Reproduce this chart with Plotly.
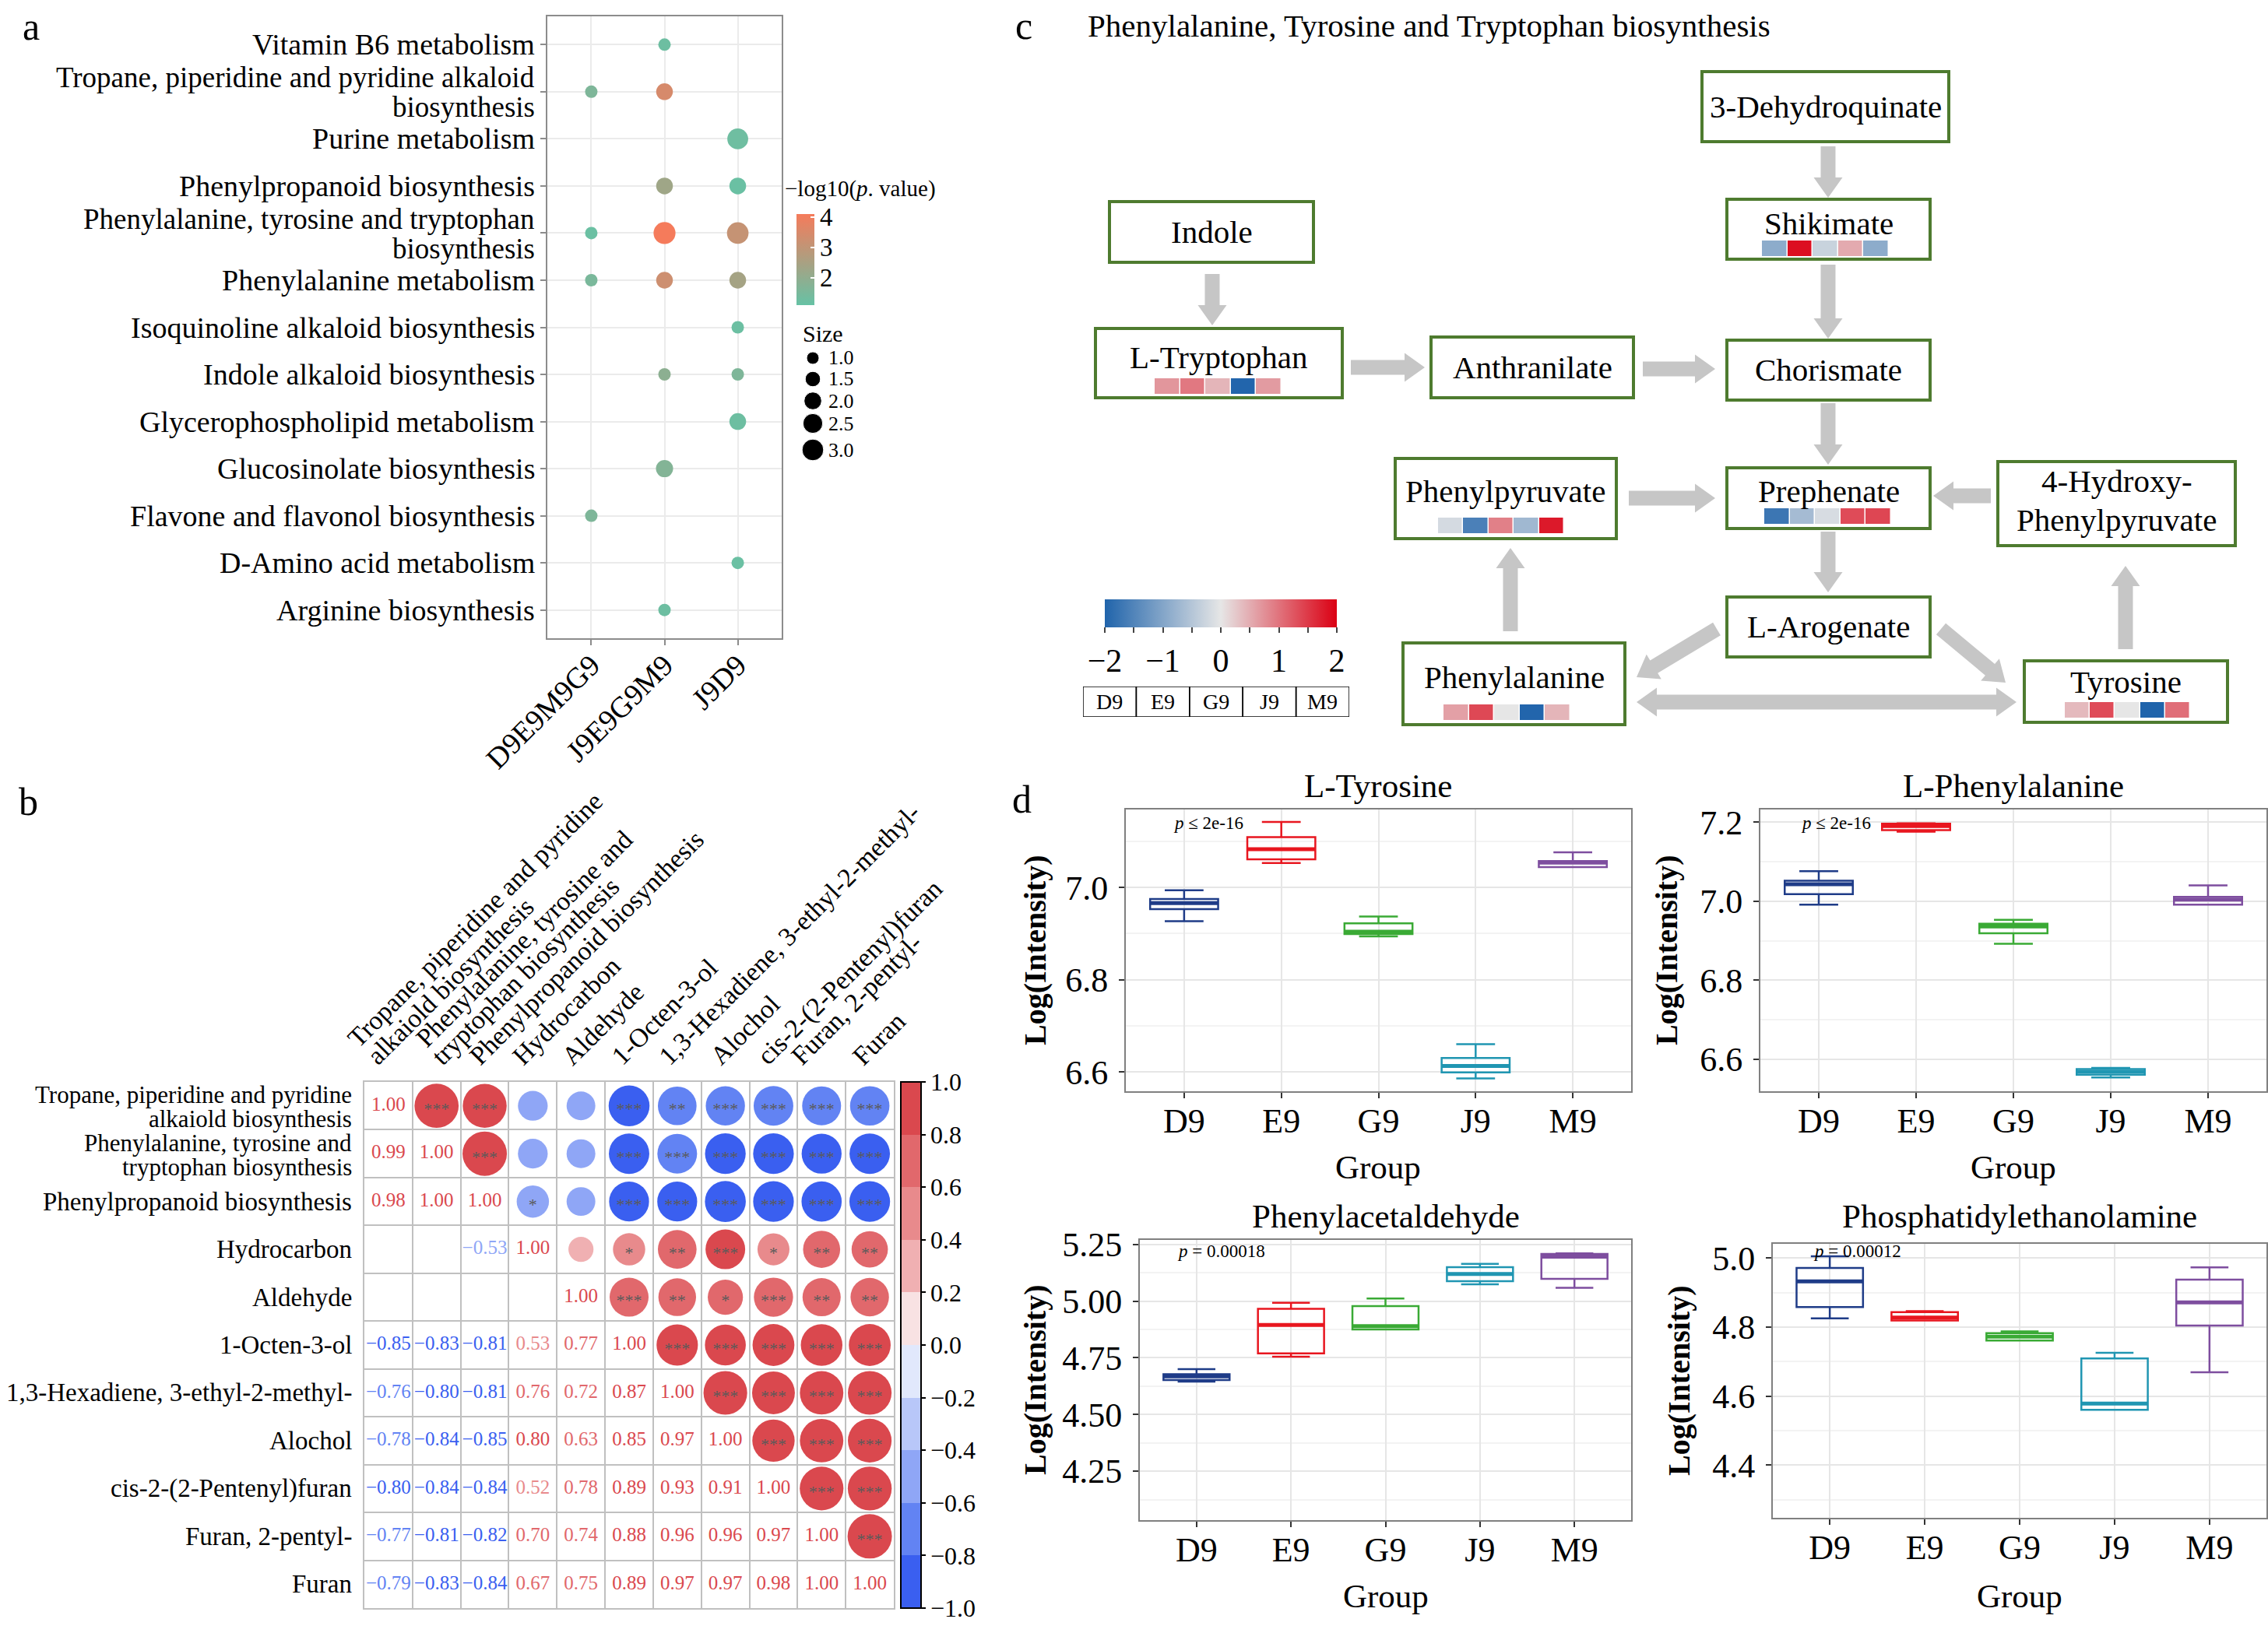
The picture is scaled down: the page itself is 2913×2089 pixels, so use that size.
import math
import plotly.graph_objects as go

W, H = 2913, 2089
FONT = "Liberation Serif"


def fx(x):
    return x / W


def fy(y):
    return 1 - y / H


def dom_x(a, b):
    return [a / W, b / W]


def dom_y(a, b):
    return [1 - b / H, 1 - a / H]


# ====================== DATA ======================
# ---- panel a : enrichment bubble chart
pathway_labels = [
    "Vitamin B6 metabolism",
    "Tropane, piperidine and pyridine alkaloid\nbiosynthesis",
    "Purine metabolism",
    "Phenylpropanoid biosynthesis",
    "Phenylalanine, tyrosine and tryptophan\nbiosynthesis",
    "Phenylalanine metabolism",
    "Isoquinoline alkaloid biosynthesis",
    "Indole alkaloid biosynthesis",
    "Glycerophospholipid metabolism",
    "Glucosinolate biosynthesis",
    "Flavone and flavonol biosynthesis",
    "D-Amino acid metabolism",
    "Arginine biosynthesis",
]
bubble_groups = ["D9E9M9G9", "J9E9G9M9", "J9D9"]
bub_pathway = [0, 1, 1, 2, 3, 3, 4, 4, 4, 5, 5, 5, 6, 7, 7, 8, 9, 10, 11, 12]
bub_group = ["J9E9G9M9", "D9E9M9G9", "J9E9G9M9", "J9D9", "J9E9G9M9", "J9D9",
             "D9E9M9G9", "J9E9G9M9", "J9D9", "D9E9M9G9", "J9E9G9M9", "J9D9",
             "J9D9", "J9E9G9M9", "J9D9", "J9D9", "J9E9G9M9", "D9E9M9G9",
             "J9D9", "J9E9G9M9"]
bub_size = [1.0, 1.0, 1.8, 2.8, 1.8, 1.8, 1.0, 3.1, 3.0, 1.0, 1.8, 1.8,
            1.0, 1.0, 1.0, 1.8, 1.9, 1.0, 1.0, 1.0]
bub_logp = [1.25, 1.6, 3.45, 1.28, 2.3, 1.18, 1.2, 4.1, 3.1, 1.52, 3.26, 2.42,
            1.22, 1.9, 1.6, 1.25, 1.7, 1.6, 1.2, 1.25]
size_legend_vals = [1.0, 1.5, 2.0, 2.5, 3.0]

# ---- panel b : correlation matrix
corr_labels = [
    "Tropane, piperidine and pyridine\nalkaiold biosynthesis",
    "Phenylalanine, tyrosine and\ntryptophan biosynthesis",
    "Phenylpropanoid biosynthesis",
    "Hydrocarbon",
    "Aldehyde",
    "1-Octen-3-ol",
    "1,3-Hexadiene, 3-ethyl-2-methyl-",
    "Alochol",
    "cis-2-(2-Pentenyl)furan",
    "Furan, 2-pentyl-",
    "Furan",
]
corr_lower = [
    [1.00],
    [0.99, 1.00],
    [0.98, 1.00, 1.00],
    [-0.45, -0.45, -0.53, 1.00],
    [-0.42, -0.42, -0.42, 0.32, 1.00],
    [-0.85, -0.83, -0.81, 0.53, 0.77, 1.00],
    [-0.76, -0.80, -0.81, 0.76, 0.72, 0.87, 1.00],
    [-0.78, -0.84, -0.85, 0.80, 0.63, 0.85, 0.97, 1.00],
    [-0.80, -0.84, -0.84, 0.52, 0.78, 0.89, 0.93, 0.91, 1.00],
    [-0.77, -0.81, -0.82, 0.70, 0.74, 0.88, 0.96, 0.96, 0.97, 1.00],
    [-0.79, -0.83, -0.84, 0.67, 0.75, 0.89, 0.97, 0.97, 0.98, 1.00, 1.00],
]
hidden_rows = [3, 3, 4, 4, 4, 4]
hidden_cols = [0, 1, 0, 1, 2, 3]
corr_stars = [
    ["***", "***", "", "", "***", "**", "***", "***", "***", "***"],
    ["***", "", "", "***", "***", "***", "***", "***", "***"],
    ["*", "", "***", "***", "***", "***", "***", "***"],
    ["", "*", "**", "***", "*", "**", "**"],
    ["***", "**", "*", "***", "**", "**"],
    ["***", "***", "***", "***", "***"],
    ["***", "***", "***", "***"],
    ["***", "***", "***"],
    ["***", "***"],
    ["***"],
]
corr_bin_colors = ["#3A5FF0", "#6283F3", "#8FA6F6", "#B8C7F9", "#E1E8FC",
                   "#F8E2E3", "#F0B0B2", "#E88A8C", "#E1686C", "#DA484E"]
corr_ticks = [-1.0, -0.8, -0.6, -0.4, -0.2, 0.0, 0.2, 0.4, 0.6, 0.8, 1.0]

# ---- panel c : pathway heat strips (z-scores)
strip_groups = ["D9", "E9", "G9", "J9", "M9"]
shikimate_z = [-0.9, 1.87, -0.3, 0.52, -0.9]
tryptophan_z = [0.7, 0.96, 0.43, -1.98, 0.65]
phenylpyruvate_z = [-0.18, -1.57, 0.89, -0.71, 1.78]
prephenate_z = [-1.72, -0.66, -0.15, 1.35, 1.39]
phenylalanine_z = [0.61, 1.37, 0.0, -1.98, 0.43]
tyrosine_z = [0.39, 1.35, 0.0, -2.0, 1.04]
heat_ticks = [-2, -1.5, -1, -0.5, 0, 0.5, 1, 1.5, 2]
heat_ticktext = ["\u22122", "", "\u22121", "", "0", "", "1", "", "2"]

# ---- panel d : box plots (lower fence, q1, median, q3, upper fence)
box_groups = ["D9", "E9", "G9", "J9", "M9"]
box_colors = ["#1F3C88", "#E8161F", "#3AAA35", "#2096B2", "#7E4E9F"]

tyr_lo = [6.927, 7.053, 6.894, 6.586, 7.044]
tyr_q1 = [6.953, 7.061, 6.899, 6.599, 7.044]
tyr_med = [6.966, 7.083, 6.904, 6.613, 7.054]
tyr_q3 = [6.975, 7.109, 6.922, 6.630, 7.057]
tyr_hi = [6.994, 7.142, 6.937, 6.660, 7.076]

phe_lo = [6.991, 7.176, 6.892, 6.554, 6.991]
phe_q1 = [7.018, 7.180, 6.919, 6.561, 6.991]
phe_med = [7.043, 7.190, 6.936, 6.568, 7.004]
phe_q3 = [7.052, 7.196, 6.943, 6.575, 7.011]
phe_hi = [7.076, 7.197, 6.953, 6.578, 7.040]

pac_lo = [4.645, 4.755, 4.875, 5.074, 5.059]
pac_q1 = [4.652, 4.770, 4.875, 5.088, 5.098]
pac_med = [4.668, 4.895, 4.890, 5.120, 5.196]
pac_q3 = [4.678, 4.966, 4.978, 5.150, 5.208]
pac_hi = [4.700, 4.993, 5.012, 5.164, 5.211]

pe_lo = [4.825, 4.819, 4.761, 4.560, 4.669]
pe_q1 = [4.858, 4.819, 4.761, 4.560, 4.804]
pe_med = [4.932, 4.827, 4.772, 4.578, 4.871]
pe_q3 = [4.971, 4.843, 4.782, 4.709, 4.937]
pe_hi = [5.005, 4.846, 4.787, 4.725, 4.973]

# ====================== FIGURE ======================
fig = go.Figure()
layout = dict(width=W, height=H, margin=dict(l=0, r=0, t=0, b=0),
              paper_bgcolor="white", plot_bgcolor="white",
              font=dict(family=FONT, color="black"), showlegend=False)
annotations = []
shapes = []


def ann(text, x, y, size, xanchor="center", yanchor="middle", xref="paper",
        yref="paper", color="black", **kw):
    d = dict(text=text, x=x, y=y, xref=xref, yref=yref, xanchor=xanchor,
             yanchor=yanchor, showarrow=False, borderpad=0, borderwidth=0,
             font=dict(family=FONT, size=size, color=color))
    d.update(kw)
    annotations.append(d)


def pann(text, px, py, size, **kw):
    ann(text, fx(px), fy(py), size, **kw)


# panel letters
pann("a", 40, 34, 50)
pann("b", 36, 1030, 50)
pann("c", 1315, 33, 50)
pann("d", 1312, 1027, 50)

# ---------------- panel a ----------------
def bubble_px(s):
    return 16 * math.sqrt(s)


GRAY_BORDER = "#8C8C8C"
layout["xaxis"] = dict(domain=dom_x(703, 1004), range=[-0.6, 2.6], tickvals=[0, 1, 2],
                       ticktext=bubble_groups, tickangle=-45, tickfont=dict(size=38),
                       ticks="outside", ticklen=7, tickcolor=GRAY_BORDER, tickwidth=2,
                       showgrid=True, gridcolor="#EBEBEB", gridwidth=2, zeroline=False,
                       showline=True, mirror=True, linecolor=GRAY_BORDER, linewidth=2,
                       anchor="y", automargin=False, ticklabelstandoff=-12)
layout["yaxis"] = dict(domain=dom_y(21, 820), range=[12.6, -0.6],
                       tickvals=list(range(len(pathway_labels))), showticklabels=False,
                       ticks="outside", ticklen=7, tickcolor=GRAY_BORDER, tickwidth=2,
                       showgrid=True, gridcolor="#EBEBEB", gridwidth=2, zeroline=False,
                       showline=True, mirror=True, linecolor=GRAY_BORDER, linewidth=2,
                       anchor="x", automargin=False)
fig.add_trace(go.Scatter(
    x=[bubble_groups.index(g) for g in bub_group], y=bub_pathway, mode="markers",
    marker=dict(size=[bubble_px(s) for s in bub_size], color=bub_logp, cmin=1.1, cmax=4.1,
                colorscale=[[0, "#66C2A5"], [1, "#F57B5B"]], line=dict(width=0), opacity=1,
                colorbar=dict(x=fx(1023), xanchor="left", y=fy(275), yanchor="top",
                              len=117, lenmode="pixels", thickness=23, outlinewidth=0,
                              tickvals=[2, 3, 4], ticks="inside", ticklen=5, tickwidth=2,
                              tickcolor="white", tickfont=dict(size=33, family=FONT),
                              xpad=0, ypad=0)),
    xaxis="x", yaxis="y", hoverinfo="skip"))
for i, lab in enumerate(pathway_labels):
    lines = lab.split("\n")
    if len(lines) == 1:
        ann(lines[0], fx(687), i, 38, xanchor="right", yref="y")
    else:
        ann(lines[0], fx(687), i, 37, xanchor="right", yref="y", yshift=18)
        ann(lines[1], fx(687), i, 37, xanchor="right", yref="y", yshift=-20)
pann("\u2212log10(<i>p</i>. value)", 1008, 242, 29, xanchor="left")
pann("Size", 1031, 428, 30, xanchor="left")

# size legend
legend_y = [460, 487, 515, 544, 578]
layout["xaxis2"] = dict(domain=dom_x(1020, 1120), range=[1020, 1120], visible=False,
                        anchor="y2")
layout["yaxis2"] = dict(domain=dom_y(445, 600), range=[600, 445], visible=False,
                        anchor="x2")
fig.add_trace(go.Scatter(
    x=[1044] * len(size_legend_vals), y=legend_y, mode="markers",
    marker=dict(size=[bubble_px(s) for s in size_legend_vals], color="black", opacity=1),
    xaxis="x2", yaxis="y2", hoverinfo="skip"))
for v, yy in zip(size_legend_vals, legend_y):
    ann(f"{v:.1f}", 1064, yy, 26, xanchor="left", xref="x2", yref="y2")

# ---------------- panel b ----------------
n = len(corr_labels)
grid_vals = [k - 0.5 for k in range(n + 1)]
GRID_B = "#C0C0C0"
layout["xaxis3"] = dict(domain=dom_x(468, 1148), range=[-0.5, n - 0.5], tickvals=grid_vals,
                        showticklabels=False, ticks="", showgrid=True, gridcolor=GRID_B,
                        gridwidth=2, zeroline=False, showline=True, mirror=True,
                        linecolor=GRID_B, linewidth=2, anchor="y3")
layout["yaxis3"] = dict(domain=dom_y(1390, 2066), range=[n - 0.5, -0.5], tickvals=grid_vals,
                        showticklabels=False, ticks="", showgrid=True, gridcolor=GRID_B,
                        gridwidth=2, zeroline=False, showline=True, mirror=True,
                        linecolor=GRID_B, linewidth=2, anchor="x3")


def corr_color(r):
    k = int((r + 1) / 0.2)
    return corr_bin_colors[max(0, min(9, k))]


disc_scale = []
for k, c in enumerate(corr_bin_colors):
    disc_scale.append([k / 10, c])
    disc_scale.append([(k + 1) / 10, c])

cx, cy, cr, st = [], [], [], []
for i in range(n):
    for j in range(i + 1, n):
        cx.append(j)
        cy.append(i)
        cr.append(corr_lower[j][i])
        st.append(corr_stars[i][j - i - 1])
fig.add_trace(go.Scatter(
    x=cx, y=cy, mode="markers",
    marker=dict(size=[57 * math.sqrt(abs(r)) for r in cr], color=cr, cmin=-1, cmax=1,
                colorscale=disc_scale, line=dict(width=0), opacity=1,
                colorbar=dict(x=fx(1157), xanchor="left", y=fy(1390), yanchor="top",
                              len=676, lenmode="pixels", thickness=26, outlinewidth=2,
                              outlinecolor="black", tickvals=corr_ticks,
                              ticktext=[f"{t:.1f}".replace("-", "\u2212") for t in corr_ticks],
                              ticks="outside", ticklen=5, tickwidth=2, tickcolor="black",
                              tickfont=dict(size=32, family=FONT), xpad=0, ypad=0)),
    xaxis="x3", yaxis="y3", hoverinfo="skip"))
fig.add_trace(go.Scatter(
    x=cx, y=[v + 0.1 for v in cy], mode="text", text=st,
    textfont=dict(size=22, color="#5A5A5A", family=FONT),
    xaxis="x3", yaxis="y3", hoverinfo="skip"))
hidden = set(zip(hidden_rows, hidden_cols))
nx, ny, nt, nc = [], [], [], []
for i in range(n):
    for j in range(i + 1):
        if (i, j) in hidden:
            continue
        r = corr_lower[i][j]
        nx.append(j)
        ny.append(i)
        nt.append(f"{r:.2f}".replace("-", "\u2212"))
        nc.append(corr_color(r))
fig.add_trace(go.Scatter(
    x=nx, y=ny, mode="text", text=nt, textfont=dict(size=25, color=nc, family=FONT),
    xaxis="x3", yaxis="y3", hoverinfo="skip"))
for i, lab in enumerate(corr_labels):
    lines = lab.split("\n")
    if len(lines) == 1:
        ann(lines[0], fx(452), i, 33, xanchor="right", yref="y3")
    else:
        ann(lines[0], fx(452), i, 31, xanchor="right", yref="y3", yshift=14)
        ann(lines[1], fx(452), i, 31, xanchor="right", yref="y3", yshift=-17)

# rotated column labels: baseline start of each line
col_label_lines = [
    ("Tropane, piperidine and pyridine", 461, 1347),
    ("alkaiold biosynthesis", 486, 1370),
    ("Phenylalanine, tyrosine and", 549, 1347),
    ("tryptophan biosynthesis", 569, 1370),
    ("Phenylpropanoid biosynthesis", 617, 1370),
    ("Hydrocarbon", 673, 1370),
    ("Aldehyde", 736, 1370),
    ("1-Octen-3-ol", 800, 1370),
    ("1,3-Hexadiene, 3-ethyl-2-methyl-", 860, 1370),
    ("Alochol", 926, 1370),
    ("cis-2-(2-Pentenyl)furan", 987, 1370),
    ("Furan, 2-pentyl-", 1031, 1370),
    ("Furan", 1109, 1370),
]
S_COL = 34
for txt, bx, by in col_label_lines:
    px_ = bx - 0.7071 * 0.891 * S_COL
    py_ = by + 0.7071 * 0.216 * S_COL
    pann(txt, px_, py_, S_COL, xanchor="left", yanchor="bottom", textangle=-45)

# ---------------- panel c ----------------
pann("Phenylalanine, Tyrosine and Tryptophan biosynthesis", 1397, 33, 41, xanchor="left")
GREEN = "#4E7B2F"
nodes = [
    # text lines, x0, y0, x1, y1, text centre y
    (["3-Dehydroquinate"], 2186, 92, 2503, 182, 137),
    (["Shikimate"], 2218, 256, 2479, 333, 287),
    (["Indole"], 1425, 259, 1687, 337, 298),
    (["L-Tryptophan"], 1407, 422, 1724, 511, 459),
    (["Anthranilate"], 1838, 433, 2098, 511, 472),
    (["Chorismate"], 2218, 437, 2479, 514, 475),
    (["Phenylpyruvate"], 1792, 589, 2076, 692, 631),
    (["Prephenate"], 2218, 601, 2479, 679, 631),
    (["4-Hydroxy-", "Phenylpyruvate"], 2566, 593, 2871, 701, 643),
    (["L-Arogenate"], 2218, 767, 2479, 844, 805),
    (["Phenylalanine"], 1802, 826, 2087, 931, 870),
    (["Tyrosine"], 2600, 849, 2861, 928, 876),
]
for lines, x0, y0, x1, y1, ty in nodes:
    shapes.append(dict(type="rect", xref="paper", yref="paper", x0=fx(x0), x1=fx(x1),
                       y0=fy(y1), y1=fy(y0), line=dict(color=GREEN, width=4),
                       fillcolor="rgba(0,0,0,0)", layer="above"))
    cxp = (x0 + x1) / 2
    if len(lines) == 1:
        pann(lines[0], cxp, ty, 41)
    else:
        pann(lines[0], cxp, ty - 25, 41)
        pann(lines[1], cxp, ty + 25, 41)


def block_arrow(x0, y0, x1, y1, shaft=19, head_w=37, head_l=26, double=False):
    L = math.hypot(x1 - x0, y1 - y0)
    ux, uy = (x1 - x0) / L, (y1 - y0) / L
    vx, vy = -uy, ux
    hs, hw = shaft / 2, head_w / 2

    def P(a, b):
        return (x0 + ux * a + vx * b, y0 + uy * a + vy * b)

    if double:
        pts = [P(0, 0), P(head_l, -hw), P(head_l, -hs), P(L - head_l, -hs),
               P(L - head_l, -hw), P(L, 0), P(L - head_l, hw), P(L - head_l, hs),
               P(head_l, hs), P(head_l, hw)]
    else:
        pts = [P(0, -hs), P(L - head_l, -hs), P(L - head_l, -hw), P(L, 0),
               P(L - head_l, hw), P(L - head_l, hs), P(0, hs)]
    path = "M " + " L ".join(f"{fx(a):.6f},{fy(b):.6f}" for a, b in pts) + " Z"
    return dict(type="path", path=path, xref="paper", yref="paper",
                fillcolor="#C6C6C6", line=dict(width=0), layer="below")


arrows = [
    (2348, 188, 2348, 254), (2348, 340, 2348, 435), (1557, 352, 1557, 418),
    (1735, 472, 1830, 472), (2110, 474, 2203, 474), (2348, 518, 2348, 597),
    (2092, 640, 2203, 640), (2557, 637, 2483, 637), (2348, 683, 2348, 761),
    (1940, 811, 1940, 704), (2730, 834, 2730, 727), (2205, 808, 2102, 870),
    (2493, 808, 2576, 877),
]
for a in arrows:
    shapes.append(block_arrow(*a))
shapes.append(block_arrow(2102, 902, 2590, 902, double=True))

HEAT_SCALE = [[0, "#2064AB"], [0.5, "#E6E6E6"], [1, "#DB0013"]]
strips = [
    (shikimate_z, 2263, 2426, 309, 329),
    (tryptophan_z, 1483, 1646, 486, 506),
    (phenylpyruvate_z, 1847, 2009, 665, 685),
    (prephenate_z, 2266, 2429, 653, 673),
    (phenylalanine_z, 1854, 2017, 905, 925),
    (tyrosine_z, 2652, 2813, 902, 922),
]
for k, (z, x0, x1, y0, y1) in enumerate(strips):
    ax = 4 + k
    layout[f"xaxis{ax}"] = dict(domain=dom_x(x0, x1), visible=False, anchor=f"y{ax}",
                                range=[-0.5, 4.5])
    layout[f"yaxis{ax}"] = dict(domain=dom_y(y0, y1), visible=False, anchor=f"x{ax}",
                                range=[-0.5, 0.5])
    tr = dict(z=[z], x=list(range(len(strip_groups))), y=[0], zmin=-2, zmax=2,
              colorscale=HEAT_SCALE, xgap=1.5, xaxis=f"x{ax}", yaxis=f"y{ax}",
              hoverinfo="skip", showscale=(k == 0))
    if k == 0:
        tr["colorbar"] = dict(orientation="h", x=fx(1568), xanchor="center", y=fy(770),
                              yanchor="top", len=298, lenmode="pixels", thickness=36,
                              outlinewidth=0, tickvals=heat_ticks, ticktext=heat_ticktext,
                              ticks="outside", ticklen=7, tickwidth=2, tickcolor="#444444",
                              tickfont=dict(size=42, family=FONT), xpad=0, ypad=0)
    fig.add_trace(go.Heatmap(**tr))

# group key table
layout["xaxis10"] = dict(domain=dom_x(1391, 1733), range=[0, 5], visible=False, anchor="y10")
layout["yaxis10"] = dict(domain=dom_y(882, 921), range=[0, 1], visible=False, anchor="x10")
for gi, g in enumerate(strip_groups):
    shapes.append(dict(type="rect", xref="x10", yref="y10", x0=gi, x1=gi + 1, y0=0, y1=1,
                       line=dict(color="black", width=1.5)))
    ann(g, gi + 0.5, 0.5, 28, xref="x10", yref="y10")

# ---------------- panel d ----------------
box_panels = [
    ("L-Tyrosine", (tyr_lo, tyr_q1, tyr_med, tyr_q3, tyr_hi), (1446, 2095), (1040, 1402),
     [6.558, 7.169], 0.2, 0.1, 6.6, ".1f", "<i>p</i> \u2264 2e-16", (1507, 1057),
     (1770, 1009), (1329, 1221), (1770, 1499)),
    ("L-Phenylalanine", (phe_lo, phe_q1, phe_med, phe_q3, phe_hi), (2261, 2911), (1040, 1402),
     [6.519, 7.232], 0.2, 0.1, 6.6, ".1f", "<i>p</i> \u2264 2e-16", (2313, 1057),
     (2586, 1009), (2140, 1221), (2586, 1499)),
    ("Phenylacetaldehyde", (pac_lo, pac_q1, pac_med, pac_q3, pac_hi), (1464, 2095), (1593, 1953),
     [4.034, 5.27], 0.25, 0.125, 4.25, ".2f", "<i>p</i> = 0.00018", (1512, 1607),
     (1780, 1562), (1329, 1773), (1780, 2050)),
    ("Phosphatidylethanolamine", (pe_lo, pe_q1, pe_med, pe_q3, pe_hi), (2277, 2911), (1598, 1950),
     [4.247, 5.041], 0.2, 0.1, 4.4, ".1f", "<i>p</i> = 0.00012", (2329, 1607),
     (2594, 1562), (2156, 1774), (2594, 2050)),
]
for k, (title, stats, xd, yd, yr, dt, mdt, t0, tf, ptxt, ppos, tpos, ytpos, xtpos) in \
        enumerate(box_panels):
    ax = 11 + k
    layout[f"xaxis{ax}"] = dict(domain=dom_x(*xd), range=[-0.6, 4.6], tickvals=[0, 1, 2, 3, 4],
                                ticktext=box_groups, tickfont=dict(size=44), ticks="outside",
                                ticklen=7, tickwidth=2, tickcolor="#333333", showgrid=True,
                                gridcolor="#E6E6E6", gridwidth=2, zeroline=False,
                                showline=True, mirror=True, linecolor="#808080", linewidth=2,
                                anchor=f"y{ax}", automargin=False, ticklabelstandoff=-9)
    layout[f"yaxis{ax}"] = dict(domain=dom_y(*yd), range=yr, dtick=dt, tick0=t0,
                                tickformat=tf, tickfont=dict(size=44), ticks="outside",
                                ticklen=7, tickwidth=2, tickcolor="#333333", showgrid=True,
                                gridcolor="#E6E6E6", gridwidth=2, zeroline=False,
                                showline=True, mirror=True, linecolor="#808080", linewidth=2,
                                minor=dict(dtick=mdt, tick0=t0, showgrid=True,
                                           gridcolor="#F3F3F3", gridwidth=1.5),
                                anchor=f"x{ax}", automargin=False, ticklabelstandoff=5)
    lo, q1, med, q3, hi = stats
    for gi, col in enumerate(box_colors):
        fig.add_trace(go.Box(x=[gi], q1=[q1[gi]], median=[med[gi]], q3=[q3[gi]],
                             lowerfence=[lo[gi]], upperfence=[hi[gi]], width=0.7,
                             whiskerwidth=0.57, line=dict(color=col, width=2.5),
                             fillcolor="rgba(255,255,255,0)", boxpoints=False,
                             xaxis=f"x{ax}", yaxis=f"y{ax}", hoverinfo="skip"))
        fig.add_trace(go.Scatter(x=[gi - 0.35, gi + 0.35], y=[med[gi], med[gi]], mode="lines",
                                 line=dict(color=col, width=5), xaxis=f"x{ax}",
                                 yaxis=f"y{ax}", hoverinfo="skip"))
    pann(title, tpos[0], tpos[1], 43)
    pann("<b>Log(Intensity)</b>", ytpos[0], ytpos[1], 40, textangle=-90)
    pann("Group", xtpos[0], xtpos[1], 43)
    pann(ptxt, ppos[0], ppos[1], 23, xanchor="left")

layout["annotations"] = annotations
layout["shapes"] = shapes
fig.update_layout(**layout)
fig.write_html("out.html",
               config={"displayModeBar": False},
               post_script="document.body.style.margin='0px';"
                           "document.body.style.padding='0px';"
                           "document.body.style.overflow='hidden';")
